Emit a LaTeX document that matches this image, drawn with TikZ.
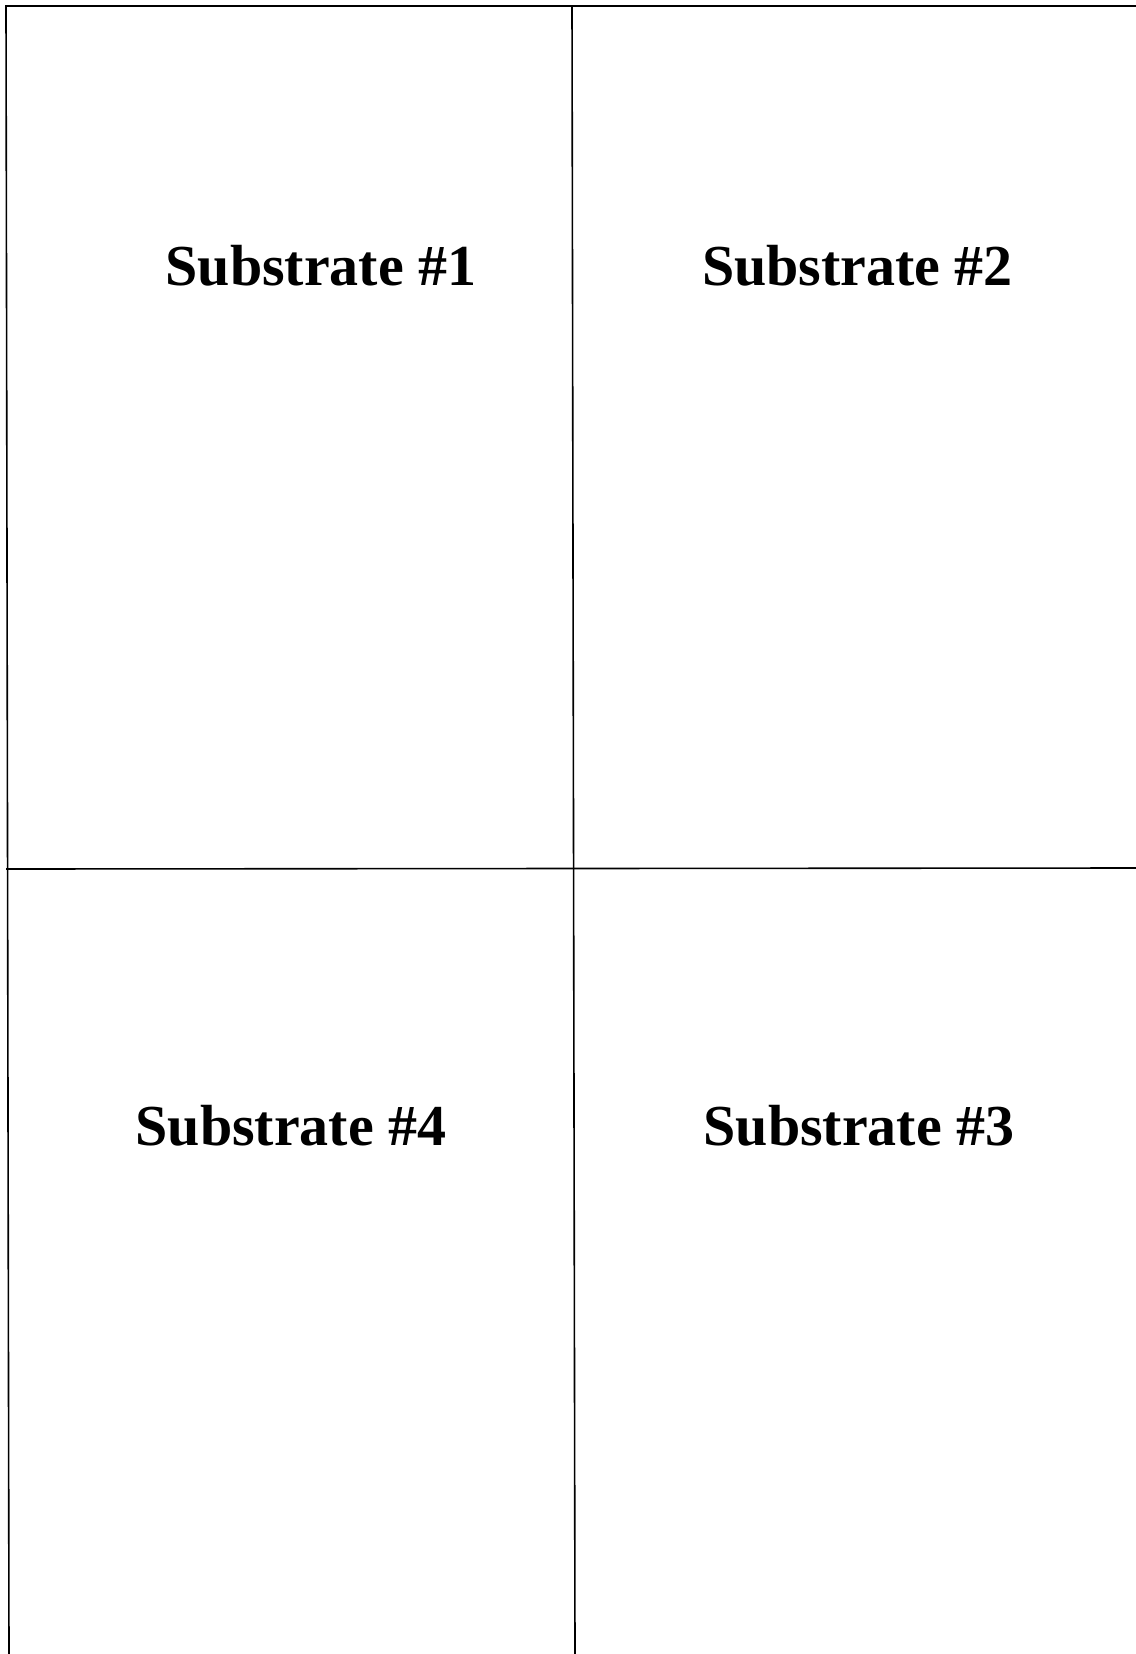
\documentclass[tikz,border=0pt]{standalone}
\usepackage{fontspec}
\setmainfont{Liberation Serif}
\begin{document}
\begin{tikzpicture}[x=1pt,y=-1pt,
  gridline/.style={line width=1.6pt, black, line cap=rect},
  label/.style={anchor=base, inner sep=0pt, font=\bfseries\fontsize{58}{58}\selectfont}]
\useasboundingbox (0,0) rectangle (1135,1654);
\fill[white] (0,0) rectangle (1135,1654);
\coordinate (tl) at (6,6);
\coordinate (tr) at (1135,6);
\coordinate (bl) at (9,1654);
\coordinate (mt) at (572,6);
\coordinate (mb) at (575,1654);
\coordinate (ml) at (7,869);
\coordinate (mr) at (1135,868);
\draw[gridline] (tl) -- (tr);
\draw[gridline] (tl) -- (bl);
\draw[gridline] (mt) -- (mb);
\draw[gridline] (ml) -- (mr);
\node[label] (s1) at (321,285) {Substrate \#1};
\node[label] (s2) at (857.5,285) {Substrate \#2};
\node[label] (s4) at (291,1145) {Substrate \#4};
\node[label] (s3) at (859,1145) {Substrate \#3};
\end{tikzpicture}
\end{document}
